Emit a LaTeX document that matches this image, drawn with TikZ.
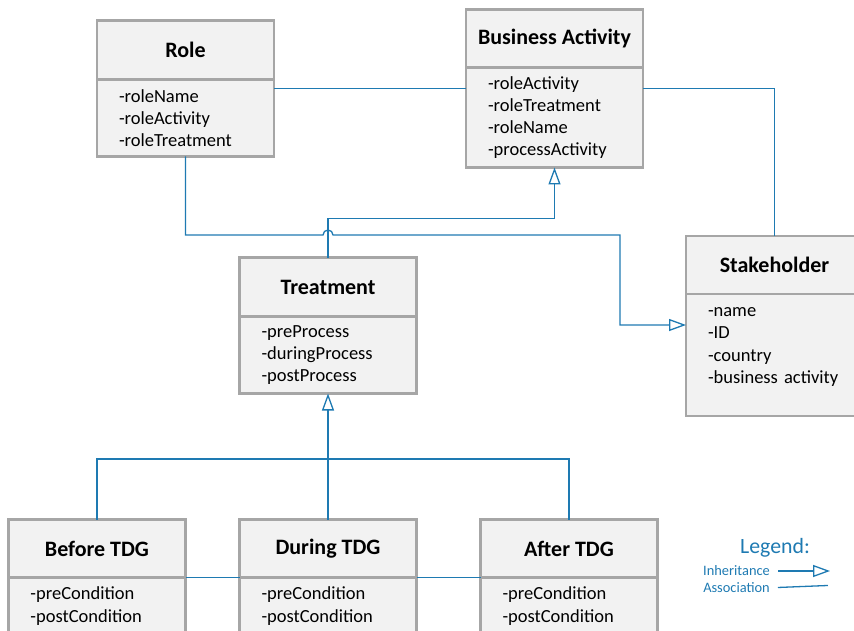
\documentclass[tikz,border=0pt]{standalone}
\usepackage{fontspec}
\setmainfont{Carlito}
\usetikzlibrary{arrows.meta, calc, shapes, positioning}
\definecolor{umlblue}{RGB}{30,122,178}
\definecolor{umlgray}{RGB}{166,166,166}
\definecolor{umlfill}{RGB}{242,242,242}

\begin{document}
\begin{tikzpicture}[x=1pt,y=-1pt,node distance=0cm]

\tikzstyle{head}=[rectangle,draw=umlgray,fill=umlfill,line width=2.5pt,outer sep=0pt,minimum width=177pt,minimum height=58pt,font=\fontsize{22}{26}\selectfont\bfseries];
\tikzstyle{attrs}=[rectangle,draw=umlgray,fill=umlfill,line width=2.5pt,outer sep=0pt,inner xsep=22pt,text width=133pt,align=left,font=\fontsize{18.5}{22.2}\selectfont];
\tikzstyle{assoc}=[draw=umlblue,line width=1.3pt];
\tikzstyle{inherit}=[assoc,-{Triangle[open,length=17pt,width=12pt]}];
\tikzstyle{legend}=[text=umlblue,inner sep=1pt];

\useasboundingbox (0,0) rectangle (854,631);
\clip (0,0) rectangle (854,631);

% classes
\node(ROLE) [head,minimum height=59pt] at (185.5,50) {Role};
\node(ROLEB) [attrs,minimum height=77pt,below= of ROLE] {-roleName\\-roleActivity\\-roleTreatment};
\node(BA) [head] at (554.5,38.5) {Business Activity};
\node(BAB) [attrs,minimum height=100pt,below= of BA] {-roleActivity\\-roleTreatment\\-roleName\\-processActivity};
\node(TREAT) [head,minimum height=59pt] at (328,287) {Treatment};
\node(TREATB) [attrs,minimum height=77pt,below= of TREAT] {-preProcess\\-duringProcess\\-postProcess};
\node(STAKE) [head] at (774.5,265) {Stakeholder};
\node(STAKEB) [attrs,minimum height=122pt,below= of STAKE] {-name\\-ID\\-country\\-business activity\\[-10pt]\strut};
\node(BEFORE) [head] at (97,548.5) {Before TDG};
\node(BEFOREB) [attrs,minimum height=57pt,below= of BEFORE] {-preCondition\\-postCondition};
\node(DURING) [head] at (328,548.5) {During TDG};
\node(DURINGB) [attrs,minimum height=57pt,below= of DURING] {-preCondition\\-postCondition};
\node(AFTER) [head] at (569,548.5) {After TDG};
\node(AFTERB) [attrs,minimum height=57pt,below= of AFTER] {-preCondition\\-postCondition};

% associations
\coordinate(RA) at ([yshift=-9pt]ROLEB.north east);
\draw[assoc] (RA) -- (RA -| BAB.west);
\draw[assoc] (RA -| BAB.east) -| (STAKE.north);
\draw[assoc] (BEFORE.south east) -- (DURING.south west);
\draw[assoc] (DURING.south east) -- (AFTER.south west);

% inheritance
\draw[inherit] (TREAT.north) -- ++(0,-39) -| (BAB.south);
\coordinate(HOP) at (TREAT.north |- 0,235);
\coordinate(SI) at ([yshift=-31pt]STAKEB.north west);
\draw[inherit] (ROLEB.south) |- ([xshift=-5pt]HOP) arc[start angle=180,end angle=0,radius=5pt] -| ([xshift=-66pt]SI) -- (SI);
\draw[inherit] (DURING.north) -- (TREATB.south);
\draw[assoc] (BEFORE.north) |- (DURING.north |- 0,459) -| (AFTER.north);

% legend
\node(LEGEND) [legend,font=\fontsize{21.8}{26}\selectfont] at (775,548) {Legend:};
\node(INH) [legend,font=\fontsize{14.4}{17}\selectfont,anchor=west] at (702,571) {Inheritance};
\node(ASSOC) [legend,font=\fontsize{14.4}{17}\selectfont,below=4pt of INH] {Association};
\draw[inherit] ([xshift=7pt]INH.east) -- ++(52,0);
\draw[assoc] ([xshift=7pt]ASSOC.east) -- ++(50,-2);

\end{tikzpicture}
\end{document}
